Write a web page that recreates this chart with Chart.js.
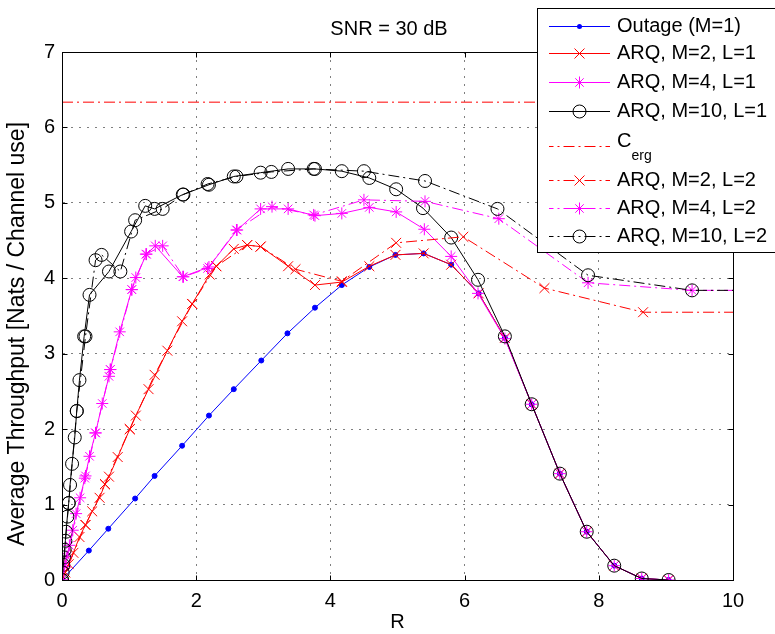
<!DOCTYPE html>
<html lang="en">
<head>
  <meta charset="UTF-8" />
  <title>ARQ throughput, SNR = 30 dB</title>
  <style>
    body { margin: 0; background: #fff; }
    #wrap { width: 775px; height: 634px; }
  </style>
</head>
<body>
  <div id="wrap"><canvas id="thr" width="775" height="634"></canvas></div>

  <script src="https://cdn.jsdelivr.net/npm/chart.js"></script>
  <script>
    // ---- data ----
    const xTicks = [0, 2, 4, 6, 8, 10];
    const yTicks = [0, 1, 2, 3, 4, 5, 6, 7];
    const titleText = 'SNR = 30 dB';
    const xLabel = 'R';
    const yLabel = 'Average Throughput [Nats / Channel use]';
    const seriesNames = ['Outage (M=1)', 'ARQ, M=2, L=1', 'ARQ, M=4, L=1', 'ARQ, M=10, L=1',
                         'C', 'ARQ, M=2, L=2', 'ARQ, M=4, L=2', 'ARQ, M=10, L=2'];

    const rOut = [0, 0.40, 0.69, 1.09, 1.38, 1.79, 2.19, 2.56, 2.97, 3.36, 3.77, 4.17, 4.58, 4.97, 5.39, 5.80, 6.21, 6.60, 7.00, 7.42, 7.82, 8.23, 8.64, 9.04];
    const tOut = [0, 0.39, 0.68, 1.08, 1.38, 1.78, 2.18, 2.53, 2.91, 3.27, 3.61, 3.91, 4.15, 4.31, 4.33, 4.18, 3.80, 3.21, 2.33, 1.41, 0.64, 0.19, 0.02, 0.00];

    const rM2L1 = [0, 0.05, 0.10, 0.17, 0.26, 0.35, 0.45, 0.56, 0.64, 0.70, 0.83, 1.01, 1.10, 1.29, 1.57, 1.79, 1.94, 2.20, 2.30, 2.56, 2.76, 2.96, 3.37, 3.77, 4.17, 4.58, 4.97, 5.39, 5.80, 6.21, 6.60, 7.00, 7.42, 7.82, 8.23, 8.64, 9.04];
    const tM2L1 = [0, 0.10, 0.21, 0.36, 0.57, 0.73, 0.91, 1.09, 1.27, 1.37, 1.63, 2.00, 2.18, 2.53, 3.04, 3.43, 3.66, 4.05, 4.16, 4.39, 4.44, 4.42, 4.16, 3.91, 3.95, 4.16, 4.31, 4.33, 4.18, 3.80, 3.21, 2.33, 1.41, 0.64, 0.19, 0.02, 0.00];

    const rM4L1 = [0, 0.04, 0.07, 0.11, 0.16, 0.21, 0.27, 0.34, 0.41, 0.50, 0.60, 0.70, 0.72, 0.86, 1.04, 1.10, 1.26, 1.39, 1.80, 2.19, 2.61, 2.96, 3.37, 3.77, 4.17, 4.58, 4.98, 5.40, 5.80, 6.20, 6.60, 7.00, 7.42, 7.82, 8.23, 8.64, 9.04];
    const tM4L1 = [0, 0.18, 0.31, 0.46, 0.66, 0.88, 1.09, 1.35, 1.64, 1.95, 2.34, 2.70, 2.79, 3.29, 3.85, 4.01, 4.32, 4.43, 4.02, 4.15, 4.64, 4.92, 4.92, 4.83, 4.86, 4.94, 4.88, 4.65, 4.29, 3.80, 3.20, 2.33, 1.41, 0.64, 0.19, 0.02, 0.00];

    const rM10L1 = [0, 0.01, 0.02, 0.03, 0.04, 0.05, 0.06, 0.08, 0.10, 0.12, 0.15, 0.19, 0.22, 0.26, 0.33, 0.41, 0.70, 1.03, 1.24, 1.38, 1.80, 2.19, 2.56, 2.96, 3.37, 3.77, 4.17, 4.58, 4.98, 5.38, 5.80, 6.20, 6.60, 7.00, 7.42, 7.82, 8.23, 8.64, 9.04];
    const tM10L1 = [0, 0.10, 0.20, 0.30, 0.40, 0.52, 0.64, 0.84, 1.02, 1.26, 1.54, 1.89, 2.24, 2.65, 3.23, 3.78, 4.09, 4.62, 4.96, 4.92, 5.11, 5.24, 5.35, 5.40, 5.45, 5.45, 5.42, 5.33, 5.18, 4.93, 4.54, 3.98, 3.23, 2.33, 1.41, 0.64, 0.19, 0.02, 0.00];

    const rCerg = [0, 10];
    const tCerg = [6.335, 6.335];

    const rM2L2 = [0, 0.35, 0.64, 1.01, 1.38, 1.94, 2.30, 2.76, 2.96, 3.48, 4.17, 4.98, 5.98, 7.19, 8.66, 10];
    const tM2L2 = [0, 0.73, 1.27, 2.00, 2.72, 3.66, 4.16, 4.44, 4.42, 4.12, 3.96, 4.47, 4.55, 3.87, 3.55, 3.55];

    const rM4L2 = [0, 0.35, 0.50, 0.72, 1.04, 1.25, 1.50, 1.81, 2.17, 2.60, 3.13, 3.75, 4.50, 5.41, 6.51, 7.84, 9.39, 10];
    const tM4L2 = [0, 1.38, 1.95, 2.79, 3.85, 4.32, 4.43, 4.02, 4.13, 4.64, 4.95, 4.84, 5.04, 5.02, 4.79, 3.94, 3.84, 3.84];

    const rM10L2 = [0, 0.10, 0.22, 0.35, 0.50, 0.59, 0.87, 1.09, 1.50, 1.81, 2.17, 2.60, 3.12, 3.75, 4.50, 5.41, 6.49, 7.84, 9.39, 10];
    const tM10L2 = [0, 1.02, 2.24, 3.23, 4.24, 4.31, 4.09, 4.77, 4.92, 5.11, 5.25, 5.35, 5.41, 5.45, 5.42, 5.29, 4.92, 4.04, 3.84, 3.84];

    // ---- styling ----
    const FONT = 'Liberation Sans, Arial, Helvetica, sans-serif';
    const FS = 20;
    const DASHDOT = [11, 4, 2, 4];
    const BLUE = '#0000ff', RED = '#ff0000', MAG = '#ff00ff', BLK = '#000000';
    const GRID = 'rgba(0,0,0,0.5)';

    const pts = (r, t) => r.map((v, i) => ({ x: v, y: t[i] }));
    // no marker on the point sitting at the right edge (line just runs on)
    const rad = size => c => (c.raw && c.raw.x >= 10 ? 0 : size);

    // marker kind for the hand-drawn legend
    const mk = ['dot', 'x', 'star', 'o', null, 'x', 'star', 'o'];

    function series(i, r, t, color, style, size, dashed) {
      return {
        label: seriesNames[i],
        data: pts(r, t),
        borderColor: color,
        backgroundColor: color,
        borderWidth: 1,
        borderDash: dashed ? DASHDOT : [],
        pointStyle: style,
        pointRadius: rad(size),
        pointBorderColor: color,
        pointBackgroundColor: style === 'circle' && size > 3 ? 'rgba(0,0,0,0)' : color,
        pointBorderWidth: 1,
        tension: 0,
        fill: false,
        order: 7 - i
      };
    }

    const datasets = [
      series(0, rOut, tOut, BLUE, 'circle', 2.5, false),
      series(1, rM2L1, tM2L1, RED, 'crossRot', 7, false),
      series(2, rM4L1, tM4L1, MAG, 'star', 6, false),
      series(3, rM10L1, tM10L1, BLK, 'circle', 6.5, false),
      series(4, rCerg, tCerg, RED, 'circle', 0, true),
      series(5, rM2L2, tM2L2, RED, 'crossRot', 7, true),
      series(6, rM4L2, tM4L2, MAG, 'star', 6, true),
      series(7, rM10L2, tM10L2, BLK, 'circle', 6.5, true)
    ];

    function drawMarker(ctx, kind, x, y, color) {
      ctx.save();
      ctx.setLineDash([]);
      ctx.strokeStyle = color;
      ctx.fillStyle = color;
      ctx.lineWidth = 1;
      ctx.beginPath();
      if (kind === 'dot') {
        ctx.arc(x, y, 2.5, 0, Math.PI * 2);
        ctx.fill();
      } else if (kind === 'x') {
        const r = 5;
        ctx.moveTo(x - r, y - r); ctx.lineTo(x + r, y + r);
        ctx.moveTo(x - r, y + r); ctx.lineTo(x + r, y - r);
        ctx.stroke();
      } else if (kind === 'star') {
        const r = 6, d = 4.2;
        ctx.moveTo(x - r, y); ctx.lineTo(x + r, y);
        ctx.moveTo(x, y - r); ctx.lineTo(x, y + r);
        ctx.moveTo(x - d, y - d); ctx.lineTo(x + d, y + d);
        ctx.moveTo(x - d, y + d); ctx.lineTo(x + d, y - d);
        ctx.stroke();
      } else if (kind === 'o') {
        ctx.arc(x, y, 6.5, 0, Math.PI * 2);
        ctx.stroke();
      }
      ctx.restore();
    }

    // box, inward ticks, title, y label and legend (matlab look)
    const decor = {
      id: 'decor',
      afterDraw(chart) {
        const { ctx, chartArea: a, scales: { x, y } } = chart;
        ctx.save();
        ctx.strokeStyle = '#000';
        ctx.lineWidth = 1;
        ctx.setLineDash([]);
        const L = Math.round(a.left) + 0.5, R = Math.round(a.right) + 0.5;
        const T = Math.round(a.top) + 0.5, B = Math.round(a.bottom) + 0.5;
        ctx.strokeRect(L, T, R - L, B - T);
        ctx.beginPath();
        xTicks.forEach(v => {
          const px = Math.round(x.getPixelForValue(v)) + 0.5;
          ctx.moveTo(px, B); ctx.lineTo(px, B - 5);
          ctx.moveTo(px, T); ctx.lineTo(px, T + 5);
        });
        yTicks.forEach(v => {
          const py = Math.round(y.getPixelForValue(v)) + 0.5;
          ctx.moveTo(L, py); ctx.lineTo(L + 5, py);
          ctx.moveTo(R, py); ctx.lineTo(R - 5, py);
        });
        ctx.stroke();

        // title
        ctx.fillStyle = '#000';
        ctx.font = FS + 'px ' + FONT;
        ctx.textAlign = 'center';
        ctx.textBaseline = 'middle';
        ctx.fillText(titleText, 389, 29);

        // y label
        ctx.save();
        ctx.translate(18, 334);
        ctx.rotate(-Math.PI / 2);
        ctx.font = '23px ' + FONT;
        ctx.fillText(yLabel, 0, 0);
        ctx.restore();

        // legend
        const bx = 537.5, by = 8.5, bw = 245, bh = 244;
        ctx.fillStyle = '#fff';
        ctx.fillRect(bx, by, bw, bh);
        ctx.strokeRect(bx, by, bw, bh);
        const rows = [26, 53, 82, 111, 146, 180, 208, 236];
        const x0 = 549, x1 = 610, xm = 579.5, xt = 617;
        datasets.forEach((ds, i) => {
          const yy = rows[i];
          ctx.save();
          ctx.strokeStyle = ds.borderColor;
          ctx.lineWidth = 1;
          ctx.setLineDash(ds.borderDash);
          ctx.lineDashOffset = 6.5;
          ctx.beginPath();
          ctx.moveTo(x0, yy + 0.5);
          ctx.lineTo(x1, yy + 0.5);
          ctx.stroke();
          ctx.restore();
          if (mk[i]) drawMarker(ctx, mk[i], xm, yy + 0.5, ds.borderColor);

          ctx.fillStyle = '#000';
          ctx.textAlign = 'left';
          ctx.font = FS + 'px ' + FONT;
          if (i === 4) {
            ctx.textBaseline = 'middle';
            ctx.fillText(ds.label, xt, 141);
            const w = ctx.measureText(ds.label).width;
            ctx.font = '14px ' + FONT;
            ctx.textBaseline = 'alphabetic';
            ctx.fillText('erg', xt + w, 160);
          } else {
            ctx.textBaseline = 'middle';
            ctx.fillText(ds.label, xt, yy);
          }
        });
        ctx.restore();
      }
    };

    const tickFont = { family: FONT, size: FS };

    new Chart(document.getElementById('thr'), {
      type: 'line',
      data: { datasets },
      options: {
        responsive: false,
        devicePixelRatio: 1,
        animation: false,
        layout: { padding: { top: 52, right: 42, left: 0, bottom: 0 } },
        plugins: { legend: { display: false }, tooltip: { enabled: false }, title: { display: false } },
        elements: { line: { tension: 0 } },
        scales: {
          x: {
            type: 'linear',
            min: 0, max: 10,
            afterBuildTicks: s => { s.ticks = xTicks.map(v => ({ value: v })); },
            afterFit: s => { s.height = 54; },
            ticks: { font: tickFont, color: '#000', padding: 9, maxRotation: 0, autoSkip: false },
            grid: { color: GRID, drawTicks: false, lineWidth: 1 },
            border: { display: true, color: '#000', width: 1, dash: [2, 6] },
            title: { display: true, text: xLabel, font: tickFont, color: '#000', padding: { top: 0, bottom: 0 } }
          },
          y: {
            type: 'linear',
            min: 0, max: 7,
            afterBuildTicks: s => { s.ticks = yTicks.map(v => ({ value: v })); },
            afterFit: s => { s.width = 62; },
            ticks: { font: tickFont, color: '#000', padding: 7 },
            grid: { color: GRID, drawTicks: false, lineWidth: 1 },
            border: { display: true, color: '#000', width: 1, dash: [2, 6] }
          }
        }
      },
      plugins: [decor]
    });
  </script>
</body>
</html>
